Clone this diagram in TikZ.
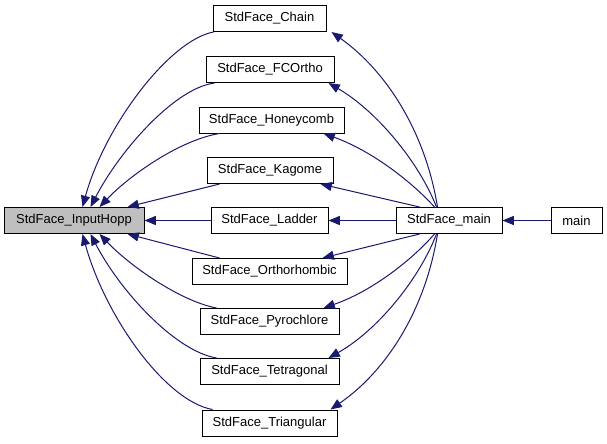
\documentclass[tikz,border=0pt]{standalone}
\usepackage{fontspec}
\setmainfont{Liberation Sans}
\usetikzlibrary{arrows.meta,calc}
\definecolor{edgeblue}{HTML}{191970}
\definecolor{hoppgray}{HTML}{BFBFBF}
\begin{document}
\begin{tikzpicture}[x=0.75pt,y=-0.75pt,
  box/.style={draw=black, fill=white, line width=0.75pt, inner sep=0pt,
    minimum height=26*0.75pt, minimum width=#1*0.75pt,
    font=\fontsize{9.75}{11}\selectfont},
  conn/.style={draw=edgeblue, line width=0.75pt,
    -{Triangle[length=8.5pt,width=6.8pt]}, fill=none}]
\useasboundingbox (0,0) rectangle (607,443);
% nodes
\node[box=140, fill=hoppgray] (hopp) at (74,220.5) {StdFace\_InputHopp};
\node[box=113] (chain) at (269.5,18.5) {StdFace\_Chain};
\node[box=128] (fco) at (270,69.5) {StdFace\_FCOrtho};
\node[box=145] (honey) at (271.5,120) {StdFace\_Honeycomb};
\node[box=126] (kag) at (270,170.5) {StdFace\_Kagome};
\node[box=117] (lad) at (269.5,220.5) {StdFace\_Ladder};
\node[box=155] (orth) at (269.5,271.5) {StdFace\_Orthorhombic};
\node[box=139] (pyro) at (269.5,321.5) {StdFace\_Pyrochlore};
\node[box=139] (tetra) at (269.5,371.5) {StdFace\_Tetragonal};
\node[box=135] (tri) at (269.5,423) {StdFace\_Triangular};
\node[box=106] (smain) at (449,220.5) {StdFace\_main};
\node[box=51] (mainn) at (576.5,220.5) {main};
% edges lattice -> InputHopp
\draw[conn] ($(chain.south west)+(1,0)$) .. controls (170,40) and (105,125) .. ($(hopp.north west)+(79,0)$);
\draw[conn] ($(fco.south west)+(9,0)$) .. controls (175,88) and (120,150) .. ($(hopp.north west)+(87,0)$);
\draw[conn] ($(honey.south west)+(21,0)$) .. controls (180,140) and (130,175) .. ($(hopp.north west)+(96,0)$);
\draw[conn] ($(kag.south west)+(13,0)$) -- ($(hopp.north west)+(124,0)$);
\draw[conn] (lad.west) -- (hopp.east);
\draw[conn] ($(orth.north west)+(28,0)$) -- ($(hopp.south west)+(124,0)$);
\draw[conn] ($(pyro.north west)+(17,0)$) .. controls (180,301) and (130,266) .. ($(hopp.south west)+(96,0)$);
\draw[conn] ($(tetra.north west)+(17,0)$) .. controls (175,351) and (120,291) .. ($(hopp.south west)+(87,0)$);
\draw[conn] ($(tri.north west)+(11,0)$) .. controls (165,401) and (105,316) .. ($(hopp.south west)+(79,0)$);
% edges StdFace_main -> lattice
\draw[conn] ($(smain.north west)+(42,0)$) .. controls (425,130) and (385,70) .. ($(chain.south east)+(5,0)$);
\draw[conn] ($(smain.north west)+(41,0)$) .. controls (418,160) and (375,110) .. ($(fco.south east)+(-6,0)$);
\draw[conn] ($(smain.north west)+(39,0)$) .. controls (410,180) and (370,150) .. ($(honey.south east)+(-21,0)$);
\draw[conn] ($(smain.north west)+(24,0)$) -- ($(kag.south east)+(-13,0)$);
\draw[conn] (smain.west) -- (lad.east);
\draw[conn] ($(smain.south west)+(24,0)$) -- ($(orth.north east)+(-25,0)$);
\draw[conn] ($(smain.south west)+(39,0)$) .. controls (410,262) and (370,292) .. ($(pyro.north east)+(-16,0)$);
\draw[conn] ($(smain.south west)+(41,0)$) .. controls (418,282) and (375,332) .. ($(tetra.north east)+(-11,0)$);
\draw[conn] ($(smain.south west)+(42,0)$) .. controls (425,312) and (385,372) .. ($(tri.north east)+(-7,0)$);
% main -> StdFace_main
\draw[conn] (mainn.west) -- (smain.east);
\end{tikzpicture}
\end{document}
